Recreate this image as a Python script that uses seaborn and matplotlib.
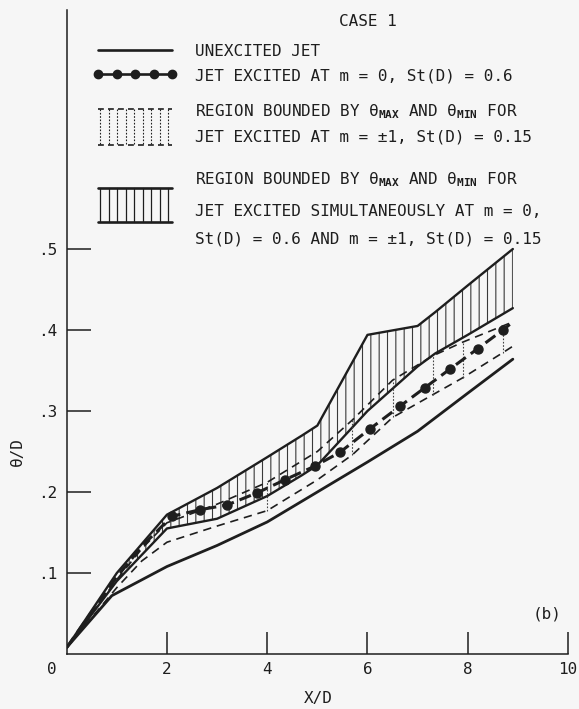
import numpy as np
import pandas as pd
import matplotlib
matplotlib.use("Agg")
import matplotlib.pyplot as plt
from matplotlib.lines import Line2D
import seaborn as sns

# ---- data -------------------------------------------------------------
# unexcited jet
x_unexc = [0.0, 0.9, 2.0, 3.0, 4.0, 5.0, 6.0, 7.0, 8.0, 8.9]
y_unexc = [0.008, 0.072, 0.108, 0.134, 0.163, 0.200, 0.237, 0.275, 0.322, 0.364]

# jet excited at m = 0, St(D) = 0.6
x_m0 = [0.0, 0.5, 1.0, 1.5, 2.1, 2.65, 3.2, 3.8, 4.35, 4.95, 5.45, 6.05,
        6.65, 7.15, 7.65, 8.2, 8.7, 8.9]
y_m0 = [0.008, 0.052, 0.095, 0.133, 0.170, 0.178, 0.184, 0.199, 0.215,
        0.232, 0.249, 0.278, 0.306, 0.329, 0.352, 0.377, 0.400, 0.410]

# jet excited at m = +-1, St(D) = 0.15 : theta max / theta min
x_pm1 = [0.0, 1.0, 1.5, 2.0, 3.0, 4.0, 5.0, 5.7, 6.5, 7.3, 7.9, 8.7, 8.9]
ymax_pm1 = [0.008, 0.092, 0.130, 0.162, 0.185, 0.212, 0.250, 0.289, 0.338,
            0.368, 0.385, 0.405, 0.410]
ymin_pm1 = [0.008, 0.082, 0.115, 0.138, 0.158, 0.177, 0.215, 0.246, 0.292,
            0.320, 0.341, 0.372, 0.380]
pm1_bars = [5, 7, 8, 9, 10, 11]   # stations joined by a vertical bar

# simultaneous excitation : theta max / theta min
x_sim = [0.0, 1.0, 2.0, 3.0, 4.0, 4.7, 5.0, 6.0, 7.0, 7.35, 8.0, 8.9]
ymax_sim = [0.008, 0.100, 0.172, 0.205, 0.243, 0.270, 0.282, 0.394, 0.405,
            0.422, 0.455, 0.500]
ymin_sim = [0.008, 0.090, 0.155, 0.167, 0.195, 0.221, 0.233, 0.300, 0.355,
            0.371, 0.394, 0.427]

x_ticks = [2, 4, 6, 8, 10]
y_ticks = [0.1, 0.2, 0.3, 0.4, 0.5]
y_ticklabels = [".1", ".2", ".3", ".4", ".5"]

# ---- style ------------------------------------------------------------
sns.set_theme(style="white")
INK = "#1e1e1e"
BG = "#f6f6f6"
MONO = "DejaVu Sans Mono"
FS = 11.5
plt.rcParams["font.family"] = [MONO, "DejaVu Sans"]
plt.rcParams["mathtext.fontset"] = "custom"
plt.rcParams["mathtext.rm"] = MONO
plt.rcParams["mathtext.it"] = MONO
plt.rcParams["mathtext.bf"] = MONO + ":bold"
plt.rcParams["hatch.linewidth"] = 0.8
plt.rcParams["hatch.color"] = "#3a3a3a"

W, H = 579, 709
fig = plt.figure(figsize=(W / 100, H / 100), dpi=100, facecolor=BG)
x0, x1, y0, y1 = 66.7, 568.0, 654.0, 10.0
ax = fig.add_axes([x0 / W, 1 - y0 / H, (x1 - x0) / W, (y0 - y1) / H])
ax.set_facecolor(BG)

# simultaneous-excitation region: hatched band with solid bounds
ax.fill_between(x_sim, ymin_sim, ymax_sim, facecolor="none",
                edgecolor="#3a3a3a", hatch="||", linewidth=0)
df_sim = pd.DataFrame({"x": x_sim * 2, "y": ymax_sim + ymin_sim,
                       "bound": ["max"] * len(x_sim) + ["min"] * len(x_sim)})
sns.lineplot(data=df_sim, x="x", y="y", units="bound", estimator=None,
             color=INK, lw=1.7, ax=ax, sort=False)

# m = +-1 region: dashed bounds joined by thin dotted bars
for yy in (ymax_pm1, ymin_pm1):
    sns.lineplot(x=x_pm1, y=yy, color=INK, lw=1.2, ax=ax, sort=False,
                 dashes=False, linestyle=(0, (5, 3.5)))
ax.vlines([x_pm1[i] for i in pm1_bars], [ymin_pm1[i] for i in pm1_bars],
          [ymax_pm1[i] for i in pm1_bars], colors="#444444", lw=0.8,
          linestyles=(0, (1.5, 1.5)))

# unexcited jet
sns.lineplot(x=x_unexc, y=y_unexc, color=INK, lw=2.0, ax=ax, sort=False)

# m = 0 excitation: heavy dashed line with dots
ax.plot(x_m0, y_m0, color=INK, lw=2.2, linestyle=(0, (4, 2)),
        marker="o", ms=6.5, markevery=list(range(4, len(x_m0) - 1)))

# ---- axes -------------------------------------------------------------
ax.set_xlim(0, 10)
ax.set_ylim(0, (y0 - y1) / 810.0)
for s in ("top", "right"):
    ax.spines[s].set_visible(False)
for s in ("left", "bottom"):
    ax.spines[s].set_color(INK)
    ax.spines[s].set_linewidth(1.1)
ax.set_xticks(x_ticks)
ax.set_xticklabels([str(t) for t in x_ticks])
ax.set_yticks(y_ticks)
ax.set_yticklabels(y_ticklabels)
ax.tick_params(axis="x", bottom=True, direction="in", length=16, width=1.1,
               color=INK, pad=6, labelsize=FS, labelcolor=INK)
ax.tick_params(axis="y", left=True, direction="in", length=17, width=1.1,
               color=INK, pad=7, labelsize=FS, labelcolor=INK)
ax.annotate("0", xy=(0, 0), xycoords="data", xytext=(-15, -16),
            textcoords="offset pixels", ha="center", va="center",
            fontsize=FS, color=INK)
ax.set_xlabel("X/D", fontsize=FS, color=INK, va="center", ha="center")
ax.xaxis.set_label_coords((318 - x0) / (x1 - x0), -(698 - y0) / (y0 - y1))
ax.set_ylabel("θ/D", fontsize=FS, color=INK, va="center", ha="center")
ax.yaxis.set_label_coords(-(x0 - 17) / (x1 - x0), (y0 - 452) / (y0 - y1))


# ---- key (drawn in figure pixels) ---------------------------------------
def P(x, y):
    return x / W, 1 - y / H


def seg(xa, ya, xb, yb, **kw):
    (fx0, fy0), (fx1, fy1) = P(xa, ya), P(xb, yb)
    fig.add_artist(Line2D([fx0, fx1], [fy0, fy1], transform=fig.transFigure,
                          color=INK, **kw))


def label(x, y, s, **kw):
    fx, fy = P(x, y)
    fig.text(fx, fy, s, fontsize=FS, color=INK, va="center", **kw)


label(547, 614, "(b)", ha="center")

kx0, kx1 = 98, 172
label(368, 21, "CASE 1", ha="center")

seg(kx0, 50, kx1, 50, lw=1.9)
label(195, 51, "UNEXCITED JET")

kxs = np.linspace(kx0, kx1, 5)
fig.add_artist(Line2D(*zip(*[P(v, 74) for v in kxs]), transform=fig.transFigure,
                      color=INK, lw=1.9, marker="o", ms=6))
label(195, 76, "JET EXCITED AT m = 0, St(D) = 0.6")

seg(kx0, 109, kx1, 109, lw=1.2, linestyle=(0, (3.5, 2.5)))
seg(kx0, 145, kx1, 145, lw=1.2, linestyle=(0, (3.5, 2.5)))
for v in np.linspace(100, 168, 9):
    seg(v, 109, v, 145, lw=0.8, linestyle=(0, (1.5, 1.5)))
label(195, 112, r"REGION BOUNDED BY $\theta_{\mathbf{MAX}}$ AND $\theta_{\mathbf{MIN}}$ FOR")
label(195, 137, "JET EXCITED AT m = ±1, St(D) = 0.15")

seg(kx0, 188, kx1, 188, lw=1.9)
seg(kx0, 222, kx1, 222, lw=1.9)
for v in np.linspace(100, 168, 9):
    seg(v, 188, v, 222, lw=0.9)
label(195, 180, r"REGION BOUNDED BY $\theta_{\mathbf{MAX}}$ AND $\theta_{\mathbf{MIN}}$ FOR")
label(195, 212, "JET EXCITED SIMULTANEOUSLY AT m = 0,")
label(195, 239, "St(D) = 0.6 AND m = ±1, St(D) = 0.15")

fig.savefig("out.png", dpi=100, facecolor=BG)
